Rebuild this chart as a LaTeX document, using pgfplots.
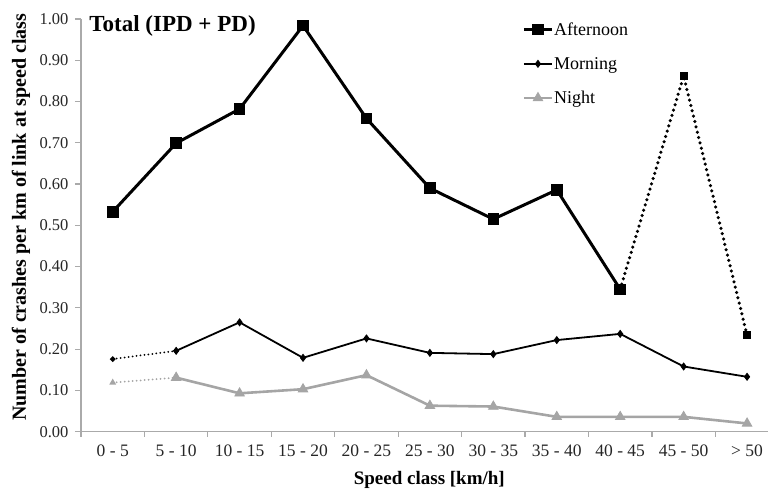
\documentclass[border=0pt]{standalone}
\usepackage{pgfplots}
\pgfplotsset{compat=1.18}
\usepackage{fontspec}
\setmainfont{Liberation Serif}
\definecolor{axgray}{RGB}{170,170,170}
\definecolor{nightgray}{RGB}{165,165,165}
\begin{document}
\begin{tikzpicture}
\path[use as bounding box] (-81pt,-57.3pt) rectangle (687pt,431.7pt);
\begin{axis}[
  scale only axis,
  width=687pt, height=412.7pt,
  xmin=-0.5, xmax=10.33,
  ymin=0, ymax=1,
  axis x line=bottom, axis y line=left,
  axis line style={-, draw=axgray, line width=1.2pt},
  xtick={0,...,10},
  xticklabels={0 - 5,5 - 10,10 - 15,15 - 20,20 - 25,25 - 30,30 - 35,35 - 40,40 - 45,45 - 50,> 50},
  major x tick style={draw=none},
  minor xtick={-0.5,0.5,...,9.5},
  minor x tick style={draw=axgray, line width=1.2pt},
  minor tick length=5pt,
  ytick={0,0.1,...,1.0},
  y tick style={draw=axgray, line width=1.2pt},
  major tick length=6pt,
  tick align=outside,
  yticklabel style={/pgf/number format/fixed,/pgf/number format/zerofill,/pgf/number format/precision=2},
  /pgf/number format/assume math mode=true,
  ticklabel style={text=black!85},
  xticklabel style={font=\fontsize{17.5}{20}\selectfont, yshift=-4pt},
  yticklabel style={font=\fontsize{16.5}{19}\selectfont, xshift=-3pt},
  xlabel={Speed class [km/h]},
  xlabel style={font=\bfseries\fontsize{19}{22}\selectfont, at={(axis description cs:0.507,0)}, anchor=north, yshift=-36pt},
  ylabel={Number of crashes per km of link at speed class},
  ylabel style={font=\bfseries\fontsize{20}{22}\selectfont, at={(axis description cs:-0.0873,0.52)}, anchor=center},
  legend style={at={(0.642,0.997)}, anchor=north west, draw=none, fill=none,
    font=\fontsize{18}{20}\selectfont, row sep=16.5pt, inner sep=0pt,
    legend cell align=left, nodes={inner xsep=0.5pt}},
  legend image code/.code={\draw[mark repeat=2,mark phase=2,#1] plot coordinates {(0cm,0cm)(0.5cm,0cm)(1cm,0cm)};},
  clip=false,
]
% Afternoon
\addplot[black, line width=3pt, mark=square*, mark size=5.3pt, mark options={solid, line width=1pt}] coordinates {
(0,0.533)(1,0.699)(2,0.782)(3,0.984)(4,0.759)(5,0.590)(6,0.515)(7,0.586)(8,0.345)};
\addlegendentry{Afternoon}
% Morning
\addplot[black, line width=1.8pt, mark=diamond*, mark size=3.5pt, mark options={solid, line width=0.8pt}] coordinates {
(1,0.196)(2,0.265)(3,0.179)(4,0.226)(5,0.191)(6,0.188)(7,0.222)(8,0.237)(9,0.158)(10,0.133)};
\addlegendentry{Morning}
% Night
\addplot[nightgray, line width=2.6pt, mark=triangle*, mark size=5.5pt, mark options={solid, line width=0.8pt}] coordinates {
(1,0.131)(2,0.093)(3,0.103)(4,0.137)(5,0.063)(6,0.061)(7,0.036)(8,0.036)(9,0.036)(10,0.020)};
\addlegendentry{Night}
% dotted parts
\addplot[black, line width=3.5pt, line cap=round, dash pattern=on 0pt off 5.5pt, mark=square*, mark size=2.2pt, mark options={solid}, forget plot] coordinates {
(8,0.345)(9,0.862)(10,0.234)};
\addplot[black, line width=2pt, line cap=round, dash pattern=on 0pt off 4pt, mark=*, mark size=1.6pt, mark options={solid}, forget plot] coordinates {
(0,0.176)(1,0.196)};
\addplot[nightgray, line width=2pt, line cap=round, dash pattern=on 0pt off 4pt, mark=triangle*, mark size=2pt, mark options={solid}, forget plot] coordinates {
(0,0.119)(1,0.131)};
\node[anchor=north west, font=\bfseries\fontsize{23}{27}\selectfont, inner sep=0pt] at (axis description cs:0.012,1.01) {Total (IPD + PD)};
\end{axis}
\end{tikzpicture}
\end{document}
